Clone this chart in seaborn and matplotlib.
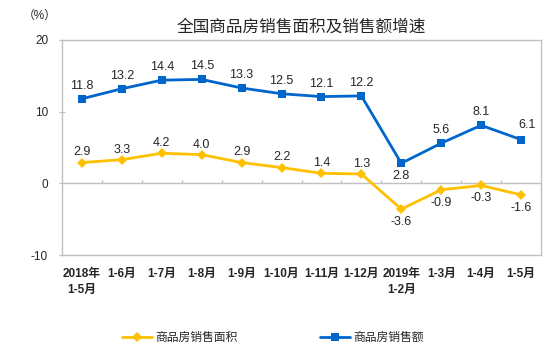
import matplotlib
matplotlib.use("Agg")
import matplotlib.pyplot as plt
import seaborn as sns
import pandas as pd
import numpy as np

categories = ["2018年\n1-5月", "1-6月", "1-7月", "1-8月", "1-9月", "1-10月", "1-11月",
              "1-12月", "2019年\n1-2月", "1-3月", "1-4月", "1-5月"]
area_growth = [2.9, 3.3, 4.2, 4.0, 2.9, 2.2, 1.4, 1.3, -3.6, -0.9, -0.3, -1.6]
sales_growth = [11.8, 13.2, 14.4, 14.5, 13.3, 12.5, 12.1, 12.2, 2.8, 5.6, 8.1, 6.1]
series_names = ["商品房销售面积", "商品房销售额"]
yticks = [-10, 0, 10, 20]

sns.set_style("white")
plt.rcParams['font.family'] = ['Liberation Sans', 'Noto Sans CJK SC', 'DejaVu Sans']

BLUE = "#0066CC"
YELLOW = "#FFC000"
GRAY = "#BFBFBF"

df = pd.DataFrame({
    "cat": categories * 2,
    "value": area_growth + sales_growth,
    "series": [series_names[0]] * len(categories) + [series_names[1]] * len(categories),
})

fig = plt.figure(figsize=(5.54, 3.58), dpi=100)
ax = fig.add_axes([62/554, 1-255/358, (541-62)/554, (255-40)/358])

sns.lineplot(data=df, x="cat", y="value", hue="series", style="series",
             palette={series_names[0]: YELLOW, series_names[1]: BLUE},
             markers={series_names[0]: "D", series_names[1]: "s"},
             dashes=False, sort=False, linewidth=2.0, markersize=5.5,
             markeredgewidth=0, ax=ax, legend=True)

ax.set_xlim(-0.5, len(categories) - 0.5)
ax.set_ylim(-10, 20)
ax.set_yticks(yticks)
ax.set_yticklabels([str(v) for v in yticks], fontsize=8.5)
ax.set_xlabel("")
ax.set_ylabel("")
ax.tick_params(axis="x", length=0, pad=9, labelsize=8.5)
ax.tick_params(axis="y", length=4, direction="inout", color=GRAY, pad=8, left=True)
for lab in ax.get_xticklabels():
    lab.set_linespacing(1.5)
    lab.set_fontweight("bold")

for s in ax.spines.values():
    s.set_color(GRAY)
    s.set_linewidth(1.0)

# zero line and category boundary ticks
ax.axhline(0, color=GRAY, linewidth=1.0, zorder=1)
ax.vlines(np.arange(0.5, len(categories) - 0.5, 1), 0, 0.5, color=GRAY, linewidth=1.0, zorder=1)

# data labels
for i, v in enumerate(sales_growth):
    if i == 8:
        ax.annotate(f"{v:.1f}", (i, v), xytext=(0, -5), textcoords="offset points",
                    ha="center", va="top", fontsize=9)
    elif i == 11:
        ax.annotate(f"{v:.1f}", (i, v), xytext=(4, 6), textcoords="offset points",
                    ha="center", va="bottom", fontsize=9)
    else:
        ax.annotate(f"{v:.1f}", (i, v), xytext=(0, 5), textcoords="offset points",
                    ha="center", va="bottom", fontsize=9)
for i, v in enumerate(area_growth):
    if v < 0:
        ax.annotate(f"{v:.1f}", (i, v), xytext=(0, -5), textcoords="offset points",
                    ha="center", va="top", fontsize=9)
    else:
        ax.annotate(f"{v:.1f}", (i, v), xytext=(0, 3), textcoords="offset points",
                    ha="center", va="bottom", fontsize=9)

# legend
handles, labels = ax.get_legend_handles_labels()
ax.legend_.remove()
fig.legend(handles, labels, loc="center", bbox_to_anchor=(273/554, 1-338/358), ncol=2,
           frameon=False, fontsize=8.5, handlelength=2.5, handletextpad=0.3,
           columnspacing=7.0)

fig.text(301/554, 1-27/358, "全国商品房销售面积及销售额增速", ha="center", va="center",
         fontsize=12)
fig.text(40/554, 1-16/358, "（%）", ha="center", va="center", fontsize=8.5)

fig.savefig("out.png", dpi=100)
